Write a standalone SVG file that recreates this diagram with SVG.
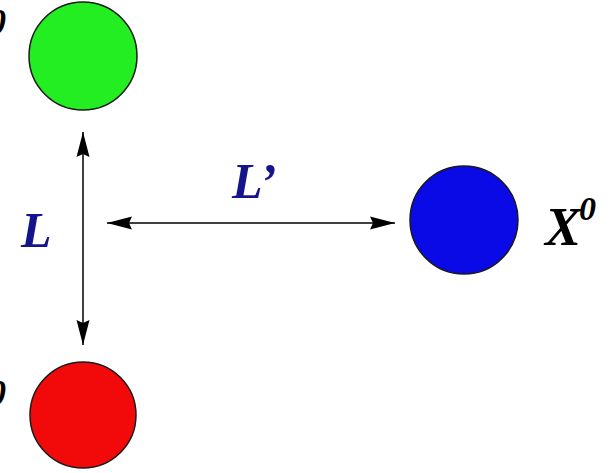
<svg xmlns="http://www.w3.org/2000/svg" width="613" height="473" viewBox="0 0 613 473">
<style>
.node{stroke:#1a1a1a;stroke-width:1.5}
.lbl{font-family:"Liberation Serif","Times New Roman",serif;font-style:italic;font-weight:bold}
.navy{fill:#14148c;font-size:50px}
.blk{fill:#000}
.conn{stroke:#000;stroke-width:1.5;fill:none}
</style>
<defs>
<marker id="ah" markerUnits="userSpaceOnUse" markerWidth="26" markerHeight="14" refX="25" refY="6.5" orient="auto-start-reverse" viewBox="0 0 26 13">
<path d="M0,0 L25,6.5 L0,13 L3,6.5 z" fill="#000"/>
</marker>
</defs>
<rect width="613" height="473" fill="#fff"/>
<g id="node-green">
<circle class="node" cx="83" cy="56" r="54" fill="#22ee22"/>
<text class="lbl blk" x="-12" y="34" font-size="36">0</text>
</g>
<g id="node-red">
<circle class="node" cx="83" cy="415" r="53" fill="#f20a0a"/>
<text class="lbl blk" x="-12" y="405" font-size="36">0</text>
</g>
<g id="node-blue">
<circle class="node" cx="464" cy="220" r="54" fill="#0a0ae6"/>
<text class="lbl blk" x="545" y="245" font-size="54">X</text>
<text class="lbl blk" x="579" y="220" font-size="34">0</text>
</g>
<g id="connectors">
<line class="conn" x1="83" y1="132" x2="83" y2="345" marker-start="url(#ah)" marker-end="url(#ah)"/>
<line class="conn" x1="107" y1="223" x2="395" y2="223" marker-start="url(#ah)" marker-end="url(#ah)"/>
</g>
<g id="labels">
<text class="lbl navy" x="21" y="247">L</text>
<text class="lbl navy" x="232" y="198">L’</text>
</g>
</svg>
